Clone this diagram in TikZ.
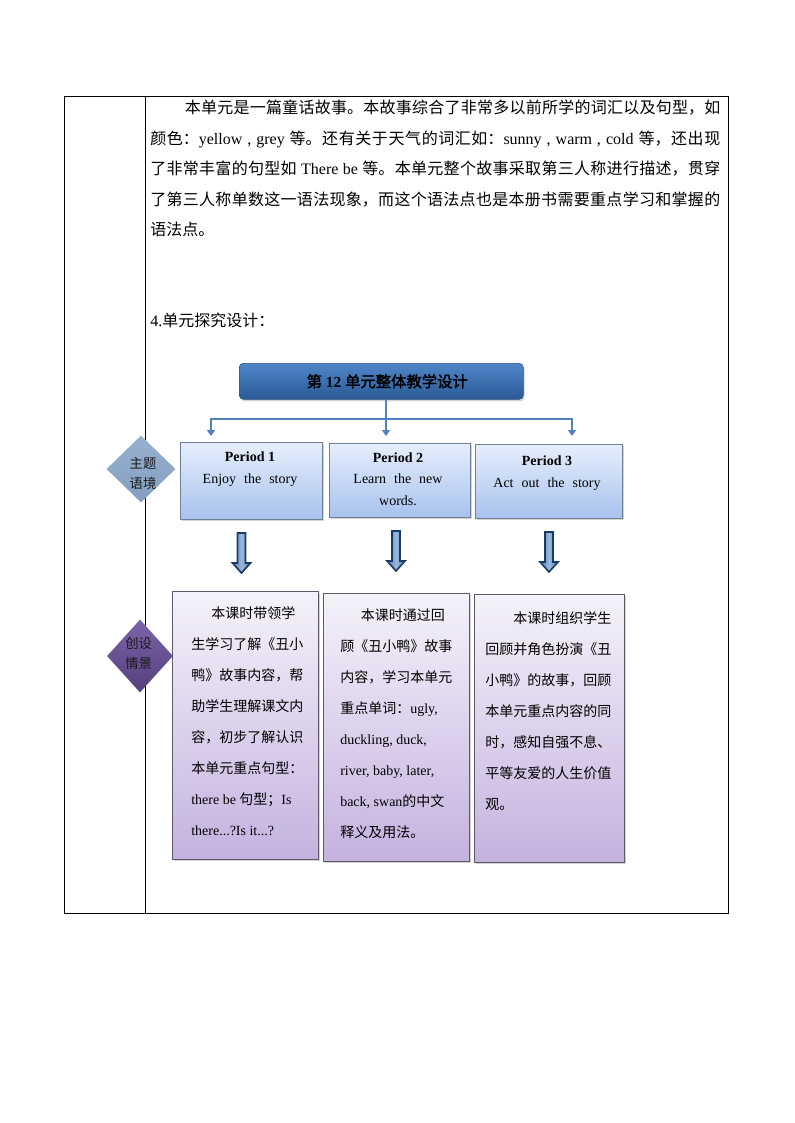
\documentclass[tikz,border=0pt]{standalone}
\usepackage{fontspec}
\setmainfont{Liberation Serif}
\newfontfamily\zh{Noto Sans CJK SC}[AutoFakeBold=2]
\usetikzlibrary{shapes.geometric,shadows,arrows.meta,positioning}
\XeTeXlinebreaklocale "zh"
\XeTeXlinebreakskip=0pt plus 1pt
\newcommand\en[1]{{\rmfamily #1}}
\newcommand\gap{\hspace{6pt}}
\definecolor{linkblue}{HTML}{4F81BD}
\definecolor{titletop}{HTML}{4F86C9}
\definecolor{titlebot}{HTML}{2A5A96}
\definecolor{titleline}{HTML}{2F5483}
\definecolor{periodtop}{HTML}{E6EEFB}
\definecolor{periodbot}{HTML}{A7C2EE}
\definecolor{periodline}{HTML}{6F7F95}
\definecolor{lessontop}{HTML}{F5F2FA}
\definecolor{lessonbot}{HTML}{C4B2DF}
\definecolor{lessonline}{HTML}{5E5868}
\definecolor{themetop}{HTML}{97B0CF}
\definecolor{themebot}{HTML}{859FC2}
\definecolor{scenetop}{HTML}{7B63A9}
\definecolor{scenebot}{HTML}{55407D}
\definecolor{arrowfill}{HTML}{4A7EBD}
\definecolor{arrowline}{HTML}{1B3A63}

\begin{document}
\begin{tikzpicture}[x=0.75pt,y=-0.75pt,
    every node/.style={inner sep=0pt},
    grid/.style={line width=0.6pt},
    titlebox/.style={draw=titleline,top color=titletop,bottom color=titlebot,rounded corners=3pt,
      drop shadow={shadow xshift=1pt,shadow yshift=-1.5pt,opacity=0.35},anchor=north west,
      font=\fontsize{11.5}{13}\selectfont\bfseries},
    periodbox/.style={draw=periodline,line width=0.5pt,top color=periodtop,bottom color=periodbot,
      drop shadow={shadow xshift=1.2pt,shadow yshift=-1.5pt,opacity=0.35},anchor=north west},
    periodtext/.style={align=center,font=\fontsize{10.5}{16}\selectfont},
    lessonbox/.style={draw=lessonline,line width=0.5pt,top color=lessontop,bottom color=lessonbot,
      drop shadow={shadow xshift=1.2pt,shadow yshift=-1.5pt,opacity=0.35},anchor=north west},
    lessontext/.style={anchor=north west,align=left,font=\zh\fontsize{10.5}{23.3}\selectfont},
    link/.style={draw=linkblue,line width=1.5pt,-{Triangle[width=6pt,length=4.5pt]}},
    blockarrow/.style={draw=arrowline,left color=arrowfill,right color=arrowfill,
      middle color=arrowfill!55!white,line width=1.2pt,line join=miter},
    theme/.style={diamond},
    themetext/.style={align=center,text=black!90,font=\zh\fontsize{10}{15}\selectfont}
  ]
  \useasboundingbox (0,0) rectangle (794,1123);
  % table frame
  \draw[grid] (64,96) rectangle (728,913);
  \draw[grid] (145,96) -- (145,913);

  \node[anchor=north west,text width=427.5pt,align=justify,font=\zh\fontsize{12}{22.9}\selectfont]
    (intro) at (150,100) {\noindent\hspace*{26pt}本单元是一篇童话故事。本故事综合了非常多以前所学的词汇以及句型，如\linebreak
    颜色：\en{yellow , grey }等。还有关于天气的词汇如：\en{sunny , warm , cold }等，还出现\linebreak
    了非常丰富的句型如\en{ There be }等。本单元整个故事采取第三人称进行描述，贯穿\linebreak
    了第三人称单数这一语法现象，而这个语法点也是本册书需要重点学习和掌握的\linebreak
    语法点。};
  \node[anchor=west,font=\zh\fontsize{12}{14}\selectfont] (design) at (150,320) {\en{4.}单元探究设计：};

  % title and periods
  \node[titlebox,minimum width=213pt,minimum height=27pt] (title) at (239,363)
    {\hspace*{9pt}{\zh 第} 12 {\zh 单元整体教学设计}};
  \node[periodbox,minimum width=106.5pt,minimum height=57.75pt] (p1) at (180,442) {};
  \node[periodbox,minimum width=105.75pt,minimum height=55.5pt] (p2) at (329,443) {};
  \node[periodbox,minimum width=110.25pt,minimum height=55.5pt] (p3) at (475,444) {};
  \node[periodtext] (p1text) at (250,469) {\textbf{Period 1}\\Enjoy\gap the\gap story};
  \node[periodtext] (p2text) at (398,479) {\textbf{Period 2}\\Learn\gap the\gap new\\words.};
  \node[periodtext] (p3text) at (547,473) {\textbf{Period 3}\\Act\gap out\gap the\gap story};

  \coordinate (fork) at (386,419);
  \coordinate (tip1) at (211,436);
  \coordinate (tip2) at (386,436);
  \coordinate (tip3) at (572,436);
  \draw[link,-] (title.south -| fork) -- (fork);
  \draw[link] (fork) -| (tip1);
  \draw[link] (fork) -- (tip2);
  \draw[link] (fork) -| (tip3);

  % block arrows
  \foreach \cx/\ty in {241.5/533,396/531,549/532}
    \draw[blockarrow] (\cx-4,\ty) -- (\cx+4,\ty) -- (\cx+4,\ty+30) -- (\cx+9,\ty+30)
      -- (\cx,\ty+40) -- (\cx-9,\ty+30) -- (\cx-4,\ty+30) -- cycle;

  % lessons
  \node[lessonbox,minimum width=109.5pt,minimum height=201pt] (b1) at (172,591) {};
  \node[lessonbox,minimum width=109.5pt,minimum height=201pt] (b2) at (323,593) {};
  \node[lessonbox,minimum width=112.5pt,minimum height=201pt] (b3) at (474,594) {};
  \node[lessontext] (b1text) at (191,606) {\hspace*{15pt}本课时带领学\\
    生学习了解《丑小\\
    鸭》故事内容，帮\\
    助学生理解课文内\\
    容，初步了解认识\\
    本单元重点句型：\\
    \en{there be }句型；\en{Is}\\
    \en{there...?Is it...?}};
  \node[lessontext] (b2text) at (340,608) {\hspace*{15.5pt}本课时通过回\\
    顾《丑小鸭》故事\\
    内容，学习本单元\\
    重点单词：\en{ugly,}\\
    \en{duckling, duck,}\\
    \en{river, baby, later,}\\
    \en{back, swan}的中文\\
    释义及用法。};
  \node[lessontext] (b3text) at (485,611) {\hspace*{21pt}本课时组织学生\\
    回顾并角色扮演《丑\\
    小鸭》的故事，回顾\\
    本单元重点内容的同\\
    时，感知自强不息、\\
    平等友爱的人生价值\\
    观。};

  % side diamonds
  \node[theme,top color=themetop,bottom color=themebot,minimum width=51.75pt,minimum height=50.25pt]
    (topic) at (141,469) {};
  \node[themetext] (topictext) at ([xshift=1.5pt,yshift=-3pt]topic.center) {主题\\语境};
  \node[theme,top color=scenetop,bottom color=scenebot,minimum width=49.5pt,minimum height=54.75pt]
    (scene) at (140,656) {};
  \node[themetext] (scenetext) at ([xshift=-1pt,yshift=2pt]scene.center) {创设\\情景};
\end{tikzpicture}
\end{document}
